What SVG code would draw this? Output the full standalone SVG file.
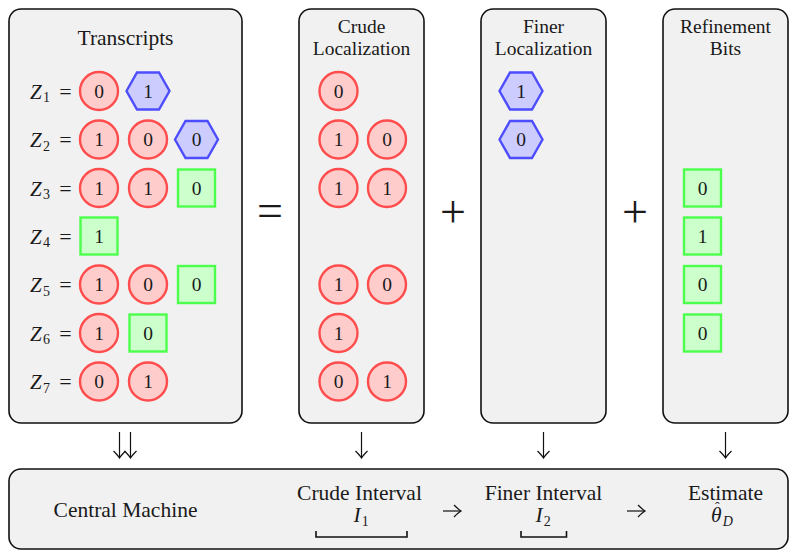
<svg xmlns="http://www.w3.org/2000/svg" xmlns:xlink="http://www.w3.org/1999/xlink" width="797" height="558" viewBox="0 0 797 558" font-family="Liberation Serif">
<style>
.box{fill:#f1f1f1;stroke:#111;stroke-width:1.6}
.c{fill:#ffcccc;stroke:#ff4d4d;stroke-width:2.4}
.h{fill:#ccccff;stroke:#4d4dff;stroke-width:2.4}
.s{fill:#ccffcc;stroke:#4dff4d;stroke-width:2.4}
text{font-family:'Liberation Serif','Times New Roman',serif;fill:#1a1a1a}
.d{font-size:19.5px;text-anchor:middle}
.t{font-size:21.5px;text-anchor:middle}
.ts{font-size:21.5px}
.sm{font-size:19.5px;text-anchor:middle}
.it{font-style:italic}
.up{font-style:normal}
.z{font-size:21px;font-style:italic}
.sub{font-size:14px}
.eq{font-size:22px;text-anchor:middle}
.big{font-size:46px;text-anchor:middle}
.arr{fill:none;stroke:#111;stroke-width:1.2}
.br{fill:none;stroke:#111;stroke-width:1.6}
</style>
<defs>
<polygon id="hex" points="-21.5,0 -11,-18.5 11,-18.5 21.5,0 11,18.5 -11,18.5"/>
<marker id="ah" viewBox="-8 -8 16 16" refX="0" refY="0" markerWidth="16" markerHeight="16" markerUnits="userSpaceOnUse" orient="auto" overflow="visible">
<path d="M -7 -6 Q -2.5 -1.5 0 0 Q -2.5 1.5 -7 6" fill="none" stroke="#111" stroke-width="1.2"/>
</marker>
</defs>

<g id="transcripts">
<rect class="box" x="9" y="9" width="233" height="414" rx="12"/>
<text class="t" x="125.5" y="45">Transcripts</text>
<g id="z1">
<text class="z" x="30" y="98.5">Z</text><text class="sub" x="43" y="102">1</text><text class="eq" x="65.5" y="98.5">=</text>
<circle class="c" cx="99" cy="91" r="19"/><text class="d" x="99" y="97.5">0</text>
<use href="#hex" xlink:href="#hex" class="h" x="148" y="91"/><text class="d" x="148" y="97.5">1</text>
</g>
<g id="z2">
<text class="z" x="30" y="147">Z</text><text class="sub" x="43" y="150.5">2</text><text class="eq" x="65.5" y="147">=</text>
<circle class="c" cx="99" cy="139.5" r="19"/><text class="d" x="99" y="146">1</text>
<circle class="c" cx="148" cy="139.5" r="19"/><text class="d" x="148" y="146">0</text>
<use href="#hex" xlink:href="#hex" class="h" x="196.5" y="139.5"/><text class="d" x="196.5" y="146">0</text>
</g>
<g id="z3">
<text class="z" x="30" y="195.5">Z</text><text class="sub" x="43" y="199">3</text><text class="eq" x="65.5" y="195.5">=</text>
<circle class="c" cx="99" cy="188" r="19"/><text class="d" x="99" y="194.5">1</text>
<circle class="c" cx="148" cy="188" r="19"/><text class="d" x="148" y="194.5">1</text>
<rect class="s" x="178" y="169.5" width="37" height="37"/><text class="d" x="196.5" y="194.5">0</text>
</g>
<g id="z4">
<text class="z" x="30" y="243.5">Z</text><text class="sub" x="43" y="247">4</text><text class="eq" x="65.5" y="243.5">=</text>
<rect class="s" x="80.5" y="217.5" width="37" height="37"/><text class="d" x="99" y="242.5">1</text>
</g>
<g id="z5">
<text class="z" x="30" y="292">Z</text><text class="sub" x="43" y="295.5">5</text><text class="eq" x="65.5" y="292">=</text>
<circle class="c" cx="99" cy="284.5" r="19"/><text class="d" x="99" y="291">1</text>
<circle class="c" cx="148" cy="284.5" r="19"/><text class="d" x="148" y="291">0</text>
<rect class="s" x="178" y="266" width="37" height="37"/><text class="d" x="196.5" y="291">0</text>
</g>
<g id="z6">
<text class="z" x="30" y="340.5">Z</text><text class="sub" x="43" y="344">6</text><text class="eq" x="65.5" y="340.5">=</text>
<circle class="c" cx="99" cy="333" r="19"/><text class="d" x="99" y="339.5">1</text>
<rect class="s" x="129.5" y="314.5" width="37" height="37"/><text class="d" x="148" y="339.5">0</text>
</g>
<g id="z7">
<text class="z" x="30" y="389">Z</text><text class="sub" x="43" y="392.5">7</text><text class="eq" x="65.5" y="389">=</text>
<circle class="c" cx="99" cy="381.5" r="19"/><text class="d" x="99" y="388">0</text>
<circle class="c" cx="148" cy="381.5" r="19"/><text class="d" x="148" y="388">1</text>
</g>
</g>

<g id="operators">
<text class="big" x="270" y="226">=</text>
<text class="big" x="453" y="227">+</text>
<text class="big" x="635" y="227">+</text>
</g>

<g id="crude">
<rect class="box" x="299" y="9" width="125" height="414" rx="12"/>
<text class="sm" x="361.5" y="33">Crude</text>
<text class="sm" x="361.5" y="55">Localization</text>
<circle class="c" cx="338.5" cy="91" r="19"/><text class="d" x="338.5" y="97.5">0</text>
<circle class="c" cx="338.5" cy="139.5" r="19"/><text class="d" x="338.5" y="146">1</text>
<circle class="c" cx="387" cy="139.5" r="19"/><text class="d" x="387" y="146">0</text>
<circle class="c" cx="338.5" cy="188" r="19"/><text class="d" x="338.5" y="194.5">1</text>
<circle class="c" cx="387" cy="188" r="19"/><text class="d" x="387" y="194.5">1</text>
<circle class="c" cx="338.5" cy="284.5" r="19"/><text class="d" x="338.5" y="291">1</text>
<circle class="c" cx="387" cy="284.5" r="19"/><text class="d" x="387" y="291">0</text>
<circle class="c" cx="338.5" cy="333" r="19"/><text class="d" x="338.5" y="339.5">1</text>
<circle class="c" cx="338.5" cy="381.5" r="19"/><text class="d" x="338.5" y="388">0</text>
<circle class="c" cx="387" cy="381.5" r="19"/><text class="d" x="387" y="388">1</text>
</g>

<g id="finer">
<rect class="box" x="481" y="9" width="125" height="414" rx="12"/>
<text class="sm" x="543.5" y="33">Finer</text>
<text class="sm" x="543.5" y="55">Localization</text>
<use href="#hex" xlink:href="#hex" class="h" x="521" y="91"/><text class="d" x="521" y="97.5">1</text>
<use href="#hex" xlink:href="#hex" class="h" x="521" y="139.5"/><text class="d" x="521" y="146">0</text>
</g>

<g id="refinement">
<rect class="box" x="663" y="9" width="125" height="414" rx="12"/>
<text class="sm" x="725.5" y="33">Refinement</text>
<text class="sm" x="725.5" y="55">Bits</text>
<rect class="s" x="684" y="169.5" width="37" height="37"/><text class="d" x="702.5" y="194.5">0</text>
<rect class="s" x="684" y="217.5" width="37" height="37"/><text class="d" x="702.5" y="242.5">1</text>
<rect class="s" x="684" y="266" width="37" height="37"/><text class="d" x="702.5" y="291">0</text>
<rect class="s" x="684" y="314.5" width="37" height="37"/><text class="d" x="702.5" y="339.5">0</text>
</g>

<g id="central">
<rect class="box" x="9" y="469" width="779" height="80" rx="12"/>
<text class="t" x="125.5" y="517">Central Machine</text>
<text class="t" x="359.5" y="500">Crude Interval</text>
<text class="ts it" x="353.5" y="522">I<tspan class="sub up" dx="1" dy="3.5">1</tspan></text>
<path class="br" d="M316 531 V537 H407 V531"/>
<text class="t" x="543.5" y="500">Finer Interval</text>
<text class="ts it" x="535.5" y="522">I<tspan class="sub up" dx="1" dy="3.5">2</tspan></text>
<path class="br" d="M521 531 V537 H566.5 V531"/>
<text class="t" x="725.5" y="500">Estimate</text>
<text class="ts it" x="711" y="522">θ<tspan class="sub up" dx="-6.5" dy="-10">ˆ</tspan><tspan class="sub" dx="3" dy="13.5">D</tspan></text>
</g>

<g id="connectors">
<path class="arr" d="M119.5 432 V458" marker-end="url(#ah)"/>
<path class="arr" d="M130.5 432 V458" marker-end="url(#ah)"/>
<path class="arr" d="M361.5 432 V458" marker-end="url(#ah)"/>
<path class="arr" d="M543.5 432 V458" marker-end="url(#ah)"/>
<path class="arr" d="M725.5 432 V458" marker-end="url(#ah)"/>
<path class="arr" d="M443 511 H461" marker-end="url(#ah)"/>
<path class="arr" d="M627 511 H645" marker-end="url(#ah)"/>
</g>
</svg>
